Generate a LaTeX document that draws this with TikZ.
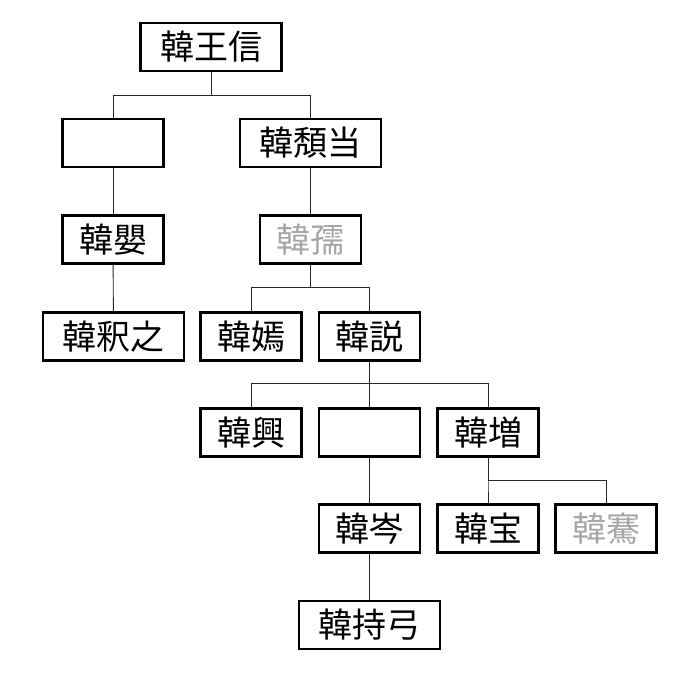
\documentclass[tikz,border=0pt]{standalone}
\usepackage{fontspec}
\newfontfamily\jp{Noto Sans CJK JP}
\usetikzlibrary{positioning}

\begin{document}
\begin{tikzpicture}[x=1pt, y=-1pt,
    person/.style={draw, line width=2.8pt, minimum width=101pt, minimum height=48pt, inner sep=0pt, font=\jp\fontsize{34}{34}\selectfont},
    wide/.style={person, minimum width=141pt},
    faded/.style={text=black!35},
    link/.style={line width=0.9pt, draw=black!85}]
    \useasboundingbox (0,0) rectangle (700,673);

    % generation 1
    \node[wide] (wangxin) at (211,47) {韓王信};

    % generation 2
    \node[person] (unknownA) at (113,143) {};
    \node[wide] (tuidang) at (310.5,143) {韓頽当};

    % generation 3
    \node[person] (ying) at (113,239.5) {韓嬰};
    \node[person, faded] (ru) at (310.5,239.5) {韓孺};

    % generation 4
    \node[wide] (shizhi) at (113.5,336.5) {韓釈之};
    \node[person] (yan) at (251,336.5) {韓嫣};
    \node[person] (yue) at (369.5,336.5) {韓説};

    % generation 5
    \node[person] (xing) at (251,432.5) {韓興};
    \node[person] (unknownB) at (369.5,432.5) {};
    \node[person] (zeng) at (488,432.5) {韓増};

    % generation 6
    \node[person] (cen) at (369.5,528.5) {韓岑};
    \node[person] (bao) at (488,528.5) {韓宝};
    \node[person, faded] (qian) at (606,528.5) {韓騫};

    % generation 7
    \node[wide] (chigong) at (369.5,625) {韓持弓};

    % lines of descent
    \draw[link] (wangxin.south) -- ++(0,23) -| (unknownA.north);
    \draw[link] (wangxin.south) -- ++(0,23) -| (tuidang.north);
    \draw[link] (unknownA) -- (ying);
    \draw[link] (ying) -- (shizhi);
    \draw[link] (tuidang) -- (ru);
    \draw[link] (ru.south) -- ++(0,23) -| (yan.north);
    \draw[link] (ru.south) -- ++(0,23) -| (yue.north);
    \draw[link] (yue.south) -- ++(0,22) -| (xing.north);
    \draw[link] (yue.south) -- ++(0,22) -| (zeng.north);
    \draw[link] (yue) -- (unknownB);
    \draw[link] (unknownB) -- (cen);
    \draw[link] (cen) -- (chigong);
    \draw[link] (zeng.south) -- ++(0,23) -| (bao.north);
    \draw[link] (zeng.south) -- ++(0,23) -| (qian.north);
\end{tikzpicture}
\end{document}
